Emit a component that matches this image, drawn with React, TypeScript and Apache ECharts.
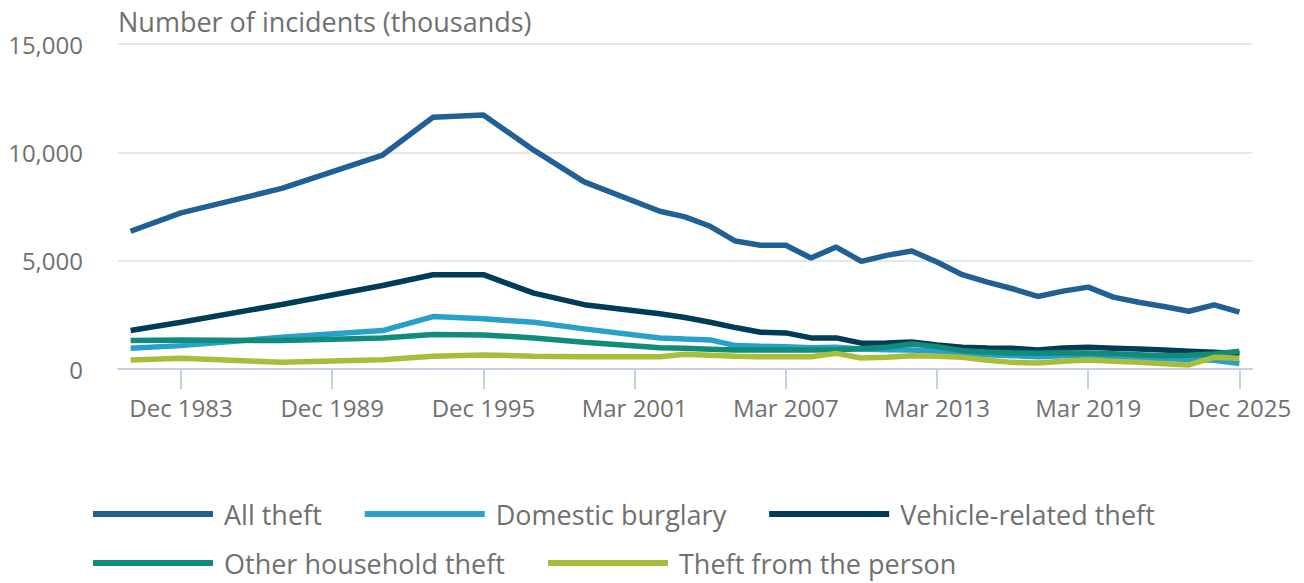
import React, { useEffect, useRef } from "react";
import * as echarts from "echarts";

const categories: string[] = [
  "Dec 1981", "Dec 1982", "Dec 1983", "Dec 1984", "Dec 1985", "Dec 1986", "Dec 1987", "Dec 1988",
  "Dec 1989", "Dec 1990", "Dec 1991", "Dec 1992", "Dec 1993", "Dec 1994", "Dec 1995", "Dec 1996",
  "Dec 1997", "Dec 1998", "Dec 1999", "Dec 2000", "Mar 2001", "Mar 2002", "Mar 2003", "Mar 2004",
  "Mar 2005", "Mar 2006", "Mar 2007", "Mar 2008", "Mar 2009", "Mar 2010", "Mar 2011", "Mar 2012",
  "Mar 2013", "Mar 2014", "Mar 2015", "Mar 2016", "Mar 2017", "Mar 2018", "Mar 2019", "Mar 2020",
  "Mar 2022", "Mar 2023", "Mar 2024", "Mar 2025", "Dec 2025",
];

const N = null;

const allTheft = [
  6356, N, 7204, N, N, N, 8333, N, N, N, 9875, N, 11620, N, 11727, N, 10100, N, 8639, N, N,
  7282, 7019, 6588, 5907, 5708, 5708, 5120, 5630, 4968, 5245, 5444, 4935, 4352, 4009, 3704,
  3347, 3593, 3778, 3315, 3083, 2884, 2667, 2963, 2620,
];

const domesticBurglary = [
  954, N, 1079, N, N, N, 1463, N, N, N, 1773, N, 2421, N, 2315, N, 2157, N, 1852, N, N,
  1426, 1380, 1343, 1079, 1046, 1032, 986, 1000, 926, 894, 880, 824, 755, 662, 616,
  569, 616, 639, 569, 523, 477, 440, 400, 250,
];

const vehicleTheft = [
  1773, N, 2157, N, N, N, 2977, N, N, N, 3856, N, 4352, N, 4352, N, 3500, N, 2968, N, N,
  2546, 2375, 2157, 1912, 1694, 1667, 1435, 1435, 1194, 1204, 1250, 1111, 1000, 972, 954,
  880, 972, 1000, 963, 926, 880, 824, 769, 708,
];

const otherHousehold = [
  1310, N, 1343, N, N, N, 1310, N, N, N, 1435, N, 1588, N, 1574, N, 1435, N, 1231, N, N,
  986, 954, 917, 880, 880, 880, 880, 894, 940, 1000, 1157, 1032, 847, 787, 741,
  731, 755, 741, 708, 662, 616, 639, 694, 815,
];

const theftFromPerson = [
  417, N, 491, N, N, N, 306, N, N, N, 431, N, 583, N, 648, N, 593, N, 569, N, N,
  569, 685, 639, 593, 569, 569, 569, 722, 509, 546, 616, 593, 537, 407, 306,
  278, 361, 417, 361, 306, 245, 185, 537, 491,
];

const seriesNames = [
  "All theft",
  "Domestic burglary",
  "Vehicle-related theft",
  "Other household theft",
  "Theft from the person",
];
const seriesColors = ["#206095", "#27a0cc", "#003c57", "#118c7b", "#a8bd3a"];
const seriesData = [allTheft, domesticBurglary, vehicleTheft, otherHousehold, theftFromPerson];

const yTicks = { min: 0, max: 15000, interval: 5000 };
const yTitle = "Number of incidents (thousands)";

export default function App() {
  const ref = useRef<HTMLDivElement>(null);

  useEffect(() => {
    document.body.style.margin = "0";
    if (!ref.current) return;
    const chart = echarts.init(ref.current, null, { renderer: "svg" });
    const textColor = "#707070";
    const font = "'Open Sans', 'Noto Sans', sans-serif";
    const showIdx = (i: number) => (i - 2) % 6 === 0;

    const legendCommon = {
      orient: "horizontal",
      icon: "rect",
      itemWidth: 120,
      itemHeight: 6,
      itemGap: 43,
      padding: 0,
      textStyle: {
        color: textColor,
        fontSize: 27,
        lineHeight: 28,
        fontFamily: font,
        padding: [0, 0, 0, 6],
      },
      selectedMode: false,
    };

    chart.setOption({
      animation: false,
      textStyle: { fontFamily: font },
      grid: { left: 118, right: 52, top: 44, bottom: 214, containLabel: false },
      graphic: [
        {
          type: "text",
          left: 118,
          top: 8,
          style: { text: yTitle, fill: textColor, fontSize: 27, fontFamily: font },
        },
      ],
      legend: [
        { ...legendCommon, left: 93, top: 500, data: seriesNames.slice(0, 3) },
        { ...legendCommon, left: 93, top: 549, data: seriesNames.slice(3) },
      ],
      xAxis: {
        type: "category",
        data: categories,
        boundaryGap: true,
        axisLine: { lineStyle: { color: "#c6d0e3", width: 2 } },
        axisTick: {
          show: true,
          alignWithLabel: true,
          interval: (i: number) => showIdx(i),
          length: 20,
          lineStyle: { color: "#c6d0e3", width: 2 },
        },
        axisLabel: {
          interval: (i: number) => showIdx(i),
          color: textColor,
          fontSize: 24,
          fontFamily: font,
          margin: 26,
        },
      },
      yAxis: {
        type: "value",
        min: yTicks.min,
        max: yTicks.max,
        interval: yTicks.interval,
        axisLine: { show: false },
        axisTick: { show: false },
        splitLine: { lineStyle: { color: "#e6e6e6", width: 2 } },
        axisLabel: {
          color: textColor,
          fontSize: 24,
          fontFamily: font,
          margin: 35,
          formatter: (v: number) => v.toLocaleString("en-GB"),
        },
      },
      series: seriesNames.map((name, i) => ({
        name,
        type: "line",
        data: seriesData[i],
        connectNulls: true,
        symbol: "none",
        color: seriesColors[i],
        lineStyle: { width: 5.5, color: seriesColors[i] },
        z: 2 + i,
      })),
    });

    return () => chart.dispose();
  }, []);

  return <div ref={ref} style={{ width: 1304, height: 583 }} />;
}
